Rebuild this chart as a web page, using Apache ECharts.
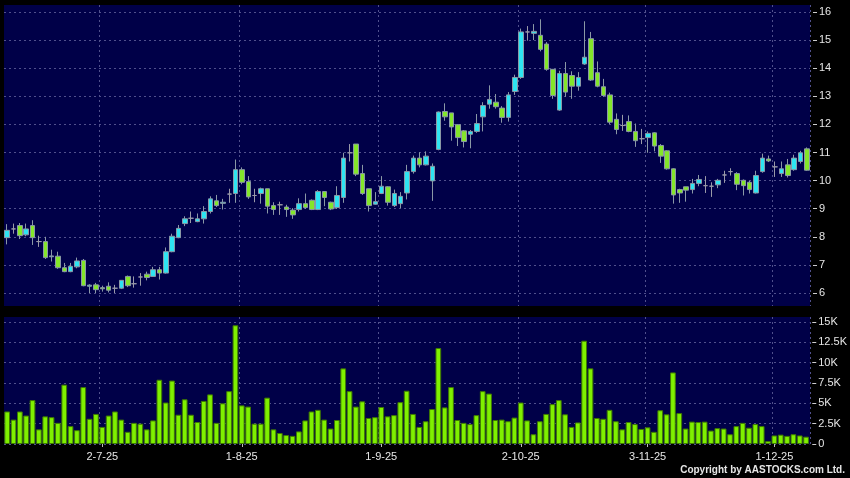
<!DOCTYPE html>
<html>
<head>
<meta charset="utf-8">
<script src="https://cdn.jsdelivr.net/npm/echarts@6/dist/echarts.min.js"></script>
<style>
html,body{margin:0;padding:0;background:#000;}
#main{width:850px;height:478px;}
</style>
</head>
<body>
<div id="main"></div>
<script>
var dates = [
'2025-06-10','2025-06-11','2025-06-12','2025-06-13','2025-06-16','2025-06-17','2025-06-18','2025-06-19','2025-06-20','2025-06-23','2025-06-24','2025-06-25','2025-06-26','2025-06-27','2025-06-30',
'2025-07-02','2025-07-03','2025-07-04','2025-07-07','2025-07-08','2025-07-09','2025-07-10','2025-07-11','2025-07-14','2025-07-15','2025-07-16','2025-07-17','2025-07-18','2025-07-21','2025-07-22','2025-07-23','2025-07-24','2025-07-25','2025-07-28','2025-07-29','2025-07-30','2025-07-31',
'2025-08-01','2025-08-04','2025-08-05','2025-08-06','2025-08-07','2025-08-08','2025-08-11','2025-08-12','2025-08-13','2025-08-14','2025-08-15','2025-08-18','2025-08-19','2025-08-20','2025-08-21','2025-08-22','2025-08-25','2025-08-26','2025-08-27','2025-08-28','2025-08-29',
'2025-09-01','2025-09-02','2025-09-03','2025-09-04','2025-09-05','2025-09-08','2025-09-09','2025-09-10','2025-09-11','2025-09-12','2025-09-15','2025-09-16','2025-09-17','2025-09-18','2025-09-19','2025-09-22','2025-09-23','2025-09-24','2025-09-25','2025-09-26','2025-09-29','2025-09-30',
'2025-10-02','2025-10-03','2025-10-06','2025-10-08','2025-10-09','2025-10-10','2025-10-13','2025-10-14','2025-10-15','2025-10-16','2025-10-17','2025-10-20','2025-10-21','2025-10-22','2025-10-23','2025-10-24','2025-10-27','2025-10-28','2025-10-30','2025-10-31',
'2025-11-03','2025-11-04','2025-11-05','2025-11-06','2025-11-07','2025-11-10','2025-11-11','2025-11-12','2025-11-13','2025-11-14','2025-11-17','2025-11-18','2025-11-19','2025-11-20','2025-11-21','2025-11-24','2025-11-25','2025-11-26','2025-11-27','2025-11-28',
'2025-12-01','2025-12-02','2025-12-03','2025-12-04','2025-12-05','2025-12-08','2025-12-09'
];

var opens = [
7.97,8.28,8.40,8.07,8.40,7.83,7.83,7.29,7.31,6.90,
6.76,6.93,7.16,6.24,6.29,6.19,6.24,6.17,6.17,6.59,
6.33,6.57,6.67,6.59,6.83,6.71,7.47,7.97,8.47,8.66,
8.54,8.64,8.90,9.28,9.19,9.52,9.54,10.39,9.97,9.47,
9.54,9.71,9.11,9.14,9.06,8.95,8.97,9.18,9.30,8.97,
9.61,9.23,9.04,9.40,10.99,11.30,10.25,9.71,9.16,9.54,
9.78,9.11,9.18,9.56,10.32,10.80,10.56,9.99,11.11,12.46,
12.41,11.99,11.77,11.65,11.75,12.27,12.72,12.79,12.58,12.25,
13.17,13.67,15.29,15.24,15.17,14.86,13.96,12.51,13.81,13.74,
13.36,14.15,15.05,13.84,13.34,13.05,12.18,11.96,12.10,11.75,
11.49,11.53,11.70,11.25,11.06,10.42,9.68,9.78,9.68,9.90,
9.82,9.80,9.85,10.20,10.32,10.25,10.01,9.94,9.56,10.32,
10.77,10.49,10.25,10.56,10.39,10.68,11.13
];
var closes = [
8.23,8.28,8.04,8.28,7.97,7.83,7.26,7.32,6.90,6.76,
6.95,7.14,6.26,6.28,6.12,6.15,6.10,6.17,6.45,6.26,
6.33,6.57,6.55,6.83,6.71,7.47,8.02,8.30,8.64,8.66,
8.64,8.90,9.35,9.11,9.23,9.52,10.39,9.94,9.42,9.47,
9.71,9.09,8.97,9.14,8.97,8.78,9.18,9.04,8.97,9.61,
9.40,8.99,9.47,10.80,10.99,10.23,9.54,9.11,9.25,9.80,
9.23,9.54,9.44,10.32,10.80,10.56,10.87,10.51,12.44,12.27,
11.91,11.53,11.39,11.75,12.03,12.67,12.89,12.63,12.25,13.05,
13.67,15.29,15.29,15.31,14.67,13.96,13.03,13.81,13.15,13.36,
13.67,14.39,13.58,13.36,13.03,12.08,11.82,11.96,11.75,11.42,
11.49,11.68,11.23,10.87,10.42,9.49,9.56,9.66,9.90,10.04,
9.82,9.80,10.01,10.20,10.32,9.87,9.82,9.68,10.18,10.80,
10.70,10.49,10.42,10.18,10.80,10.99,10.37
];
var lows = [
7.73,8.11,7.92,8.02,7.71,7.64,7.21,7.12,6.86,6.74,
6.74,6.88,6.24,6.00,6.00,6.05,6.02,6.00,6.14,6.21,
6.19,6.26,6.45,6.57,6.48,6.69,7.45,7.95,8.38,8.49,
8.52,8.47,8.83,9.06,8.97,9.21,9.21,9.87,9.35,9.23,
9.18,8.83,8.78,8.78,8.71,8.64,8.90,8.99,8.95,8.95,
9.09,8.95,8.99,9.21,10.68,10.16,9.49,8.90,9.14,9.52,
9.11,9.06,9.02,9.33,10.25,10.47,10.54,9.28,11.08,12.13,
11.42,11.23,11.18,11.15,11.70,11.75,12.56,12.56,12.06,12.10,
13.05,13.62,14.98,15.00,14.60,13.91,12.91,12.48,12.98,12.91,
13.20,14.12,13.55,13.32,12.98,12.01,11.65,11.77,11.72,11.20,
11.30,10.99,11.04,10.63,10.39,9.18,9.21,9.25,9.54,9.80,
9.56,9.42,9.73,9.92,10.18,9.66,9.47,9.54,9.54,10.28,
10.66,10.13,10.13,10.11,10.35,10.61,10.35
];
var highs = [
8.45,8.47,8.49,8.47,8.59,8.04,8.00,7.54,7.47,7.07,
7.07,7.26,7.21,6.31,6.36,6.26,6.38,6.29,6.45,6.62,
6.59,6.71,6.76,6.93,6.93,7.62,8.11,8.42,8.73,8.90,
8.83,9.09,9.44,9.49,9.35,9.71,10.75,10.47,10.16,9.71,
9.75,9.71,9.23,9.25,9.14,9.02,9.37,9.54,9.33,9.66,
9.61,9.25,9.80,10.99,11.30,11.30,10.56,9.71,9.59,10.16,
9.80,9.68,9.59,10.56,10.89,11.01,11.04,10.61,12.46,12.75,
12.41,12.01,11.80,11.80,12.37,12.79,13.39,13.08,12.65,13.15,
13.77,15.41,15.50,15.57,15.74,14.93,13.96,13.91,14.22,13.89,
13.86,15.67,15.29,14.24,13.62,13.13,12.39,12.34,12.32,12.03,
11.84,11.75,11.72,11.30,11.08,10.44,9.71,9.78,10.06,10.20,
10.16,9.94,10.06,10.35,10.44,10.30,10.04,9.99,10.35,10.96,
10.89,10.68,10.68,10.77,10.92,11.06,11.18
];
var volumes = [
4000,3000,4000,3500,5400,1800,3400,3300,2600,7300,
2200,1700,7000,3100,3700,2100,3500,4000,3000,1500,
2600,2500,1800,2900,7900,5100,7800,3600,5500,3600,
2700,5300,6100,2600,5000,6500,14600,4750,4600,2500,
2500,5700,1800,1350,1100,1000,1550,2900,4000,4200,
3000,1900,2950,9300,6500,4600,5250,3200,3300,4550,
3400,3550,5150,6550,3700,2100,2800,4300,11800,4500,
7000,2950,2600,2450,3550,6500,6200,2950,3000,2800,
3250,5100,2900,1200,2800,3700,4900,5400,3650,2100,
2650,12700,9300,3200,3100,4200,2800,1800,2700,2450,
1850,2050,1500,4150,3650,8800,3800,1900,2750,2700,
2750,1650,1950,1900,1200,2200,2600,2000,2450,2200,
350,1050,1150,1000,1200,1050,900
];

var tickIndex = [15, 37, 59, 81, 101, 121];
var tickLabels = ['2-7-25', '1-8-25', '1-9-25', '2-10-25', '3-11-25', '1-12-25'];
var priceTicks = [6, 16, 1];
var volTicks = [0, 15000, 2500];

var chart = echarts.init(document.getElementById('main'));

var kData = [];
for (var i = 0; i < dates.length; i++) {
	kData.push([opens[i], closes[i], lows[i], highs[i]]);
}

function isTick(idx) {
	return tickIndex.indexOf(idx) >= 0;
}

var panelColor = '#000048';
var gridColor = '#50508c';
var textColor = '#e6e6e6';
var labelFont = 'Liberation Sans, Arial, sans-serif';

function frameAxis(gi) {
	return {
		type: 'category', gridIndex: gi, data: dates, boundaryGap: true,
		axisLine: {show: false}, axisTick: {show: false}, axisLabel: {show: false},
		splitLine: {show: true, interval: function (idx) { return isTick(idx); },
			lineStyle: {color: gridColor, type: [2, 3], width: 1}}
	};
}

var option = {
	backgroundColor: '#000',
	animation: false,
	grid: [
		{left: 4, right: 40, top: 12, height: 281},
		{left: 4, right: 40, top: 322, height: 122},
		{left: 4, right: 40, top: 5, height: 301, show: true, backgroundColor: panelColor, borderWidth: 0},
		{left: 4, right: 40, top: 317, height: 127, show: true, backgroundColor: panelColor, borderWidth: 0}
	],
	xAxis: [
		{type: 'category', gridIndex: 0, data: dates, boundaryGap: true,
			axisLine: {show: false}, axisTick: {show: false}, axisLabel: {show: false}, splitLine: {show: false}},
		{type: 'category', gridIndex: 1, data: dates, boundaryGap: true, offset: 2,
			axisLine: {show: false},
			axisTick: {show: true, alignWithLabel: true, length: 3, interval: function (idx) { return isTick(idx); },
				lineStyle: {color: '#bbbbbb'}},
			axisLabel: {show: true, interval: function (idx) { return isTick(idx); },
				formatter: function (v, idx) { return tickLabels[tickIndex.indexOf(idx)]; },
				color: textColor, fontSize: 11, fontFamily: labelFont, margin: 5},
			splitLine: {show: false}},
		frameAxis(2),
		frameAxis(3)
	],
	yAxis: [
		{type: 'value', gridIndex: 0, position: 'right', min: priceTicks[0], max: priceTicks[1], interval: priceTicks[2],
			offset: 3,
			axisLine: {show: false},
			axisTick: {show: true, length: 4, lineStyle: {color: '#cccccc'}},
			axisLabel: {color: textColor, fontSize: 11, fontFamily: labelFont, margin: 6},
			splitLine: {show: true, lineStyle: {color: gridColor, type: [2, 3], width: 1}}},
		{type: 'value', gridIndex: 1, position: 'right', min: volTicks[0], max: volTicks[1], interval: volTicks[2],
			offset: 3,
			axisLine: {show: false},
			axisTick: {show: true, length: 4, lineStyle: {color: '#cccccc'}},
			axisLabel: {color: textColor, fontSize: 11, fontFamily: labelFont, margin: 6,
				formatter: function (v) { return v === 0 ? '0' : (v / 1000) + 'K'; }},
			splitLine: {show: true, lineStyle: {color: gridColor, type: [2, 3], width: 1}}},
		{type: 'value', gridIndex: 2, min: 0, max: 1, show: false},
		{type: 'value', gridIndex: 3, min: 0, max: 1, show: false}
	],
	series: [
		{
			type: 'candlestick', xAxisIndex: 0, yAxisIndex: 0, data: kData, barWidth: 5,
			itemStyle: {
				color: '#2ee4f2', color0: '#84e62a',
				borderColor: '#8a98a6', borderColor0: '#8a98a6', borderColorDoji: '#9a9aa8',
				borderWidth: 1
			}
		},
		{
			type: 'bar', xAxisIndex: 1, yAxisIndex: 1, data: volumes, barCategoryGap: '10%',
			itemStyle: {color: '#7ff000', borderColor: '#3f7a00', borderWidth: 1}
		}
	],
	graphic: [
		{type: 'text', right: 5, top: 465,
			style: {text: 'Copyright by AASTOCKS.com Ltd.', fill: '#e6e6e6',
				font: 'bold 10px Liberation Sans, Arial, sans-serif'}}
	]
};

chart.setOption(option);
</script>
</body>
</html>
